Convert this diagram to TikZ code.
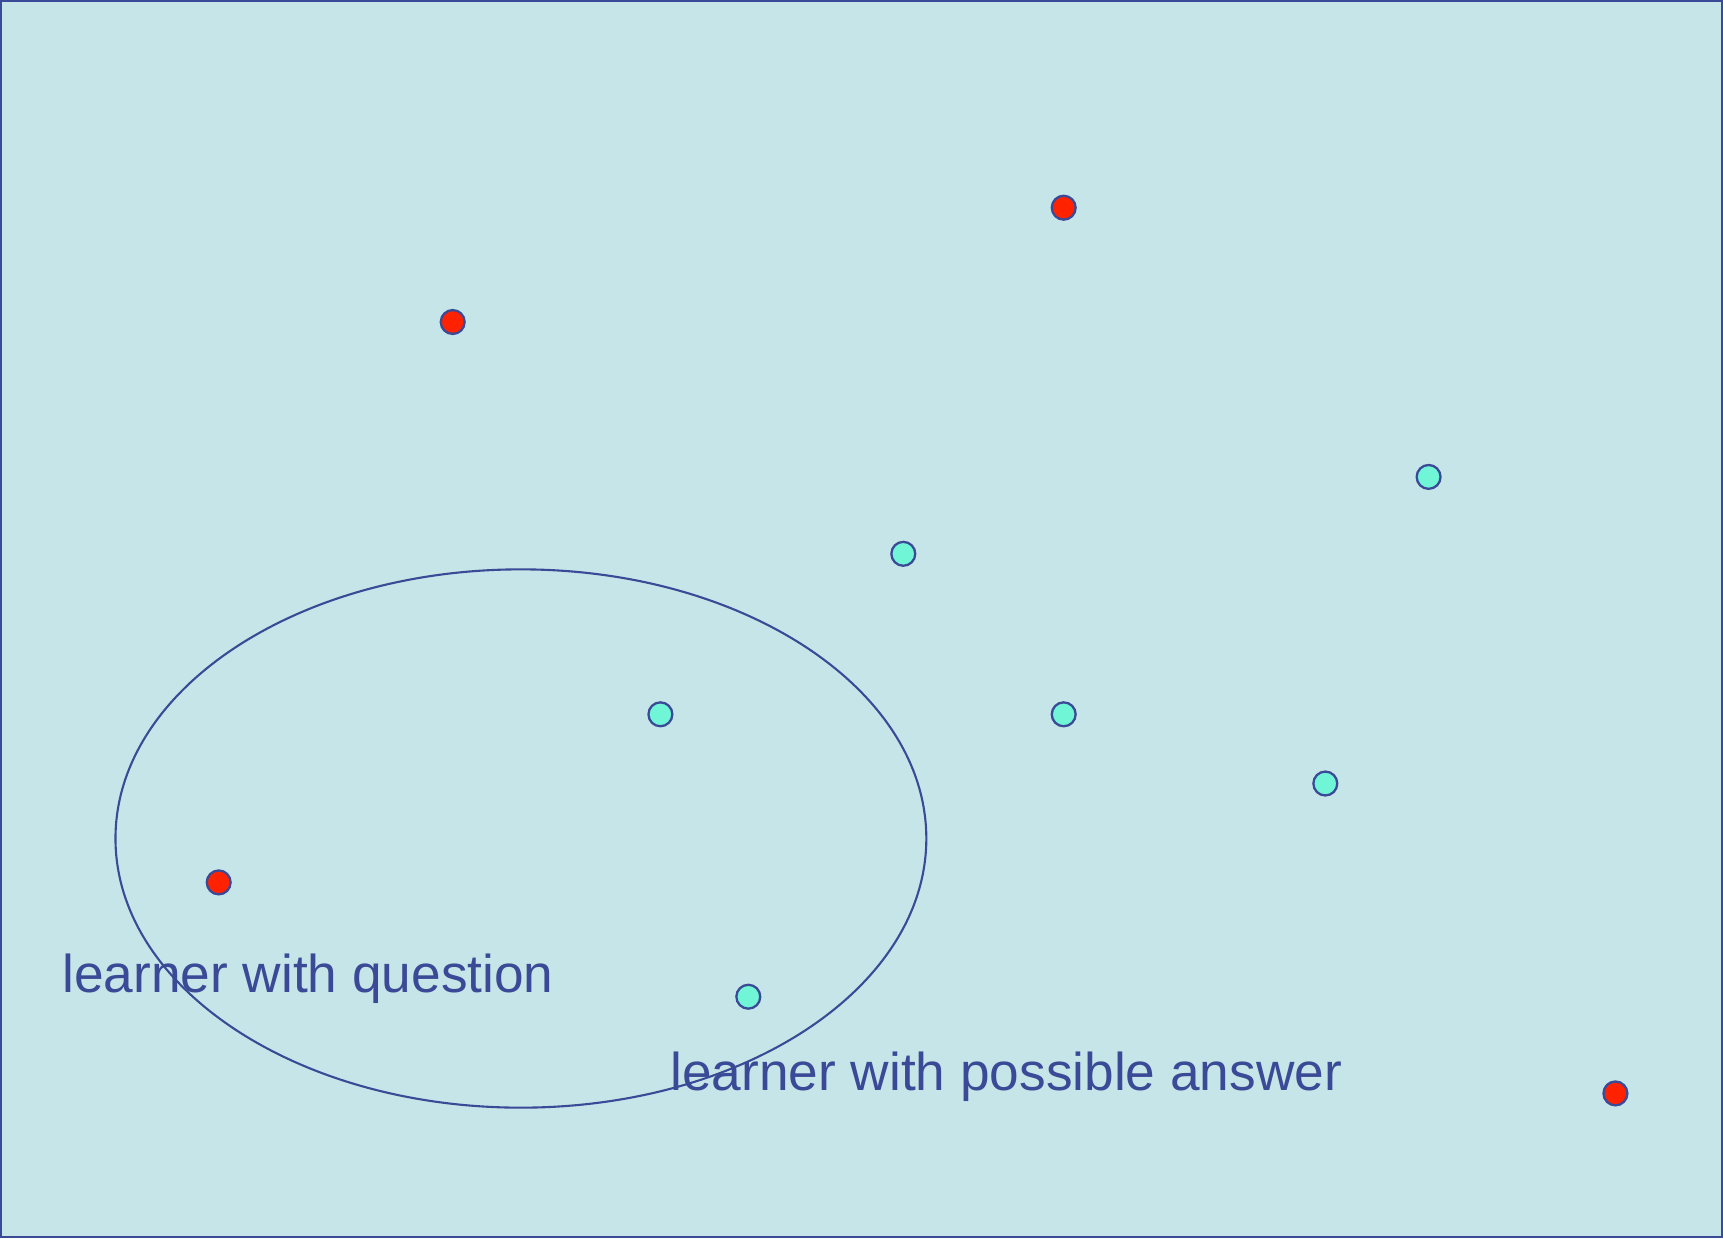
\documentclass[tikz,border=0pt]{standalone}
\usepackage{fontspec}
\setmainfont{Liberation Sans}
\definecolor{bgc}{HTML}{C6E5E8}
\definecolor{strk}{HTML}{3B4A96}
\definecolor{redd}{HTML}{FF2200}
\definecolor{cyand}{HTML}{70F5D6}
\begin{document}
\begin{tikzpicture}[x=0.02cm,y=-0.02cm,
  dotbase/.style={circle,draw=strk,line width=1.3pt,inner sep=0pt,minimum size=13.6pt},
  reddot/.style={dotbase,fill=redd},
  cyandot/.style={dotbase,fill=cyand},
  lbl/.style={anchor=base west,inner sep=0pt,text=strk,font=\fontsize{30.3pt}{36pt}\selectfont}]
\useasboundingbox (0,0) rectangle (1723,1238);
\fill[bgc] (0,0) rectangle (1723,1238);
\draw[strk,line width=1.5pt] (1,1) rectangle (1722,1237);
\coordinate (ec) at (520.9,838.5);
\draw[strk,line width=1.2pt] (ec) ellipse [x radius=8.11cm, y radius=5.384cm];
\node[reddot] (r1) at (1063.7,207.7) {};
\node[reddot] (r2) at (452.7,322.0) {};
\node[reddot] (r3) at (218.7,882.4) {};
\node[reddot] (r4) at (1615.4,1093.4) {};
\node[cyandot] (c1) at (1428.6,476.9) {};
\node[cyandot] (c2) at (903.3,553.8) {};
\node[cyandot] (c3) at (660.4,714.3) {};
\node[cyandot] (c4) at (1063.7,714.3) {};
\node[cyandot] (c5) at (1325.3,783.5) {};
\node[cyandot] (c6) at (748.3,996.7) {};
\node[lbl] (t1) at (62,992) {learner with question};
\node[lbl] (t2) at (670,1090) {learner with possible answer};
\end{tikzpicture}
\end{document}
